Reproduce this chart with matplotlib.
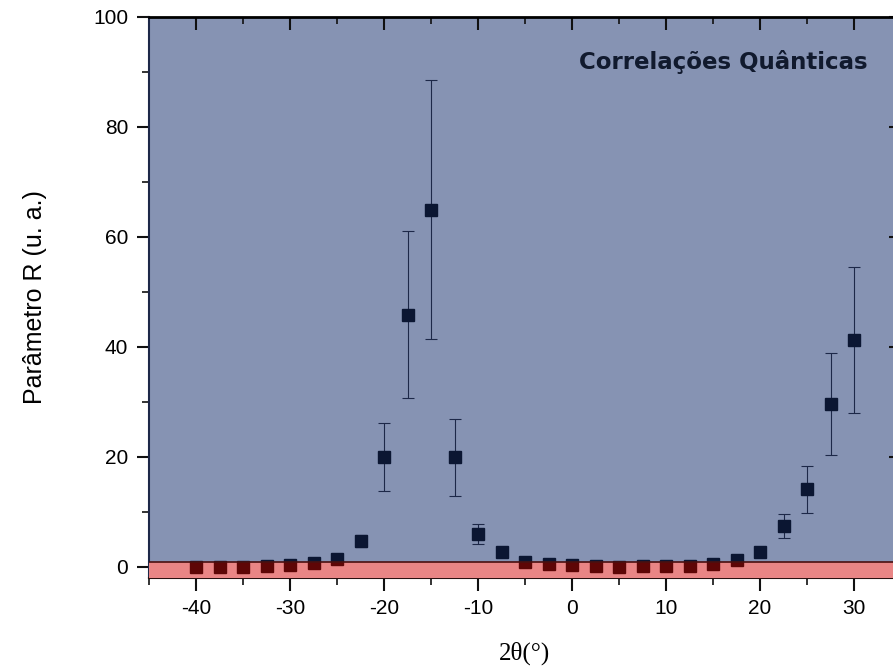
import matplotlib.pyplot as plt
from matplotlib.lines import TICKDOWN, TICKLEFT
from matplotlib.patches import Rectangle
from matplotlib.ticker import MultipleLocator

plt.rcParams['axes.unicode_minus'] = False

angles = [-40, -37.5, -35, -32.5, -30, -27.5, -25, -22.5, -20, -17.5, -15, -12.5,
          -10, -7.5, -5, -2.5, 0, 2.5, 5, 7.5, 10, 12.5, 15, 17.5, 20, 22.5, 25,
          27.5, 30]
param_r = [0.0, 0.0, 0.0, 0.1, 0.3, 0.7, 1.5, 4.8, 20.0, 45.9, 65.0, 20.0,
           6.0, 2.8, 0.9, 0.5, 0.3, 0.1, 0.0, 0.1, 0.1, 0.2, 0.6, 1.3, 2.8, 7.4, 14.1,
           29.6, 41.3]
param_err = [0.0, 0.0, 0.0, 0.0, 0.1, 0.2, 0.3, 1.1, 6.2, 15.2, 23.6, 7.0,
             1.8, 0.4, 0.2, 0.1, 0.1, 0.0, 0.0, 0.0, 0.0, 0.1, 0.2, 0.3, 0.5, 2.2, 4.3,
             9.3, 13.3]
noise_level = 1.0

navy = '#0b1632'
maroon = '#5e0606'

fig = plt.figure(figsize=(8.93, 6.67), dpi=100)
ax = fig.add_axes([149 / 893, 89 / 667, 752 / 893, 561 / 667])
ax.set_facecolor('#8693b3')

ax.errorbar(angles, param_r, yerr=param_err, fmt='none', ecolor='#1d2848',
            elinewidth=0.8, capsize=4.5, capthick=0.8, zorder=3)
ax.plot(angles, param_r, 's', color=navy, markersize=9.3, zorder=4)

# band of the noise level, markers inside it show through in dark red
band = Rectangle((-45, -2), 80, noise_level + 2, facecolor='#e98585',
                 edgecolor='none', zorder=5)
ax.add_patch(band)
inside = ax.plot(angles, param_r, 's', color=maroon, markersize=9.3, zorder=6)[0]
inside.set_clip_path(band)
ax.axhline(noise_level, color='#4a1010', lw=1.2, zorder=7)

ax.set_xlim(-45, 35)
ax.set_ylim(-2, 100)

ax.xaxis.set_major_locator(MultipleLocator(10))
ax.xaxis.set_minor_locator(MultipleLocator(5))
ax.yaxis.set_major_locator(MultipleLocator(20))
ax.yaxis.set_minor_locator(MultipleLocator(10))

ax.tick_params(which='both', direction='out', top=True, right=True,
               color='#111', labelsize=15)
ax.tick_params(axis='x', pad=6)
ax.tick_params(axis='y', pad=6)
ax.tick_params(which='major', length=9, width=1.5)
ax.tick_params(which='minor', length=5, width=1.2)
for lab in ax.get_xticklabels() + ax.get_yticklabels():
    lab.set_family('Liberation Sans')

ax.spines['top'].set_linewidth(2)
ax.spines['top'].set_color('black')
ax.spines['left'].set_color('#1d2848')
ax.spines['left'].set_linewidth(1.5)
ax.spines['bottom'].set_color('#2a1010')
ax.spines['bottom'].set_linewidth(1.5)

ax.set_xlabel('2θ(°)', family='Liberation Serif', fontsize=18, labelpad=17)
ax.set_ylabel('Parâmetro R (u. a.)', family='Liberation Sans', fontsize=18,
              labelpad=33)

ax.text(31.4, 91.8, 'Correlações Quânticas', ha='right', va='center',
        fontsize=16.5, fontweight='bold', family='DejaVu Sans', color='#111a2e')

# top and right ticks point inward
fig.canvas.draw()
for t in ax.xaxis.get_major_ticks() + ax.xaxis.get_minor_ticks():
    t.tick2line.set_marker(TICKDOWN)
    t.tick2line.set_color('#1d2848')
for t in ax.yaxis.get_major_ticks() + ax.yaxis.get_minor_ticks():
    t.tick2line.set_marker(TICKLEFT)
    t.tick2line.set_color('#1d2848')

fig.savefig('out.png', dpi=100)
